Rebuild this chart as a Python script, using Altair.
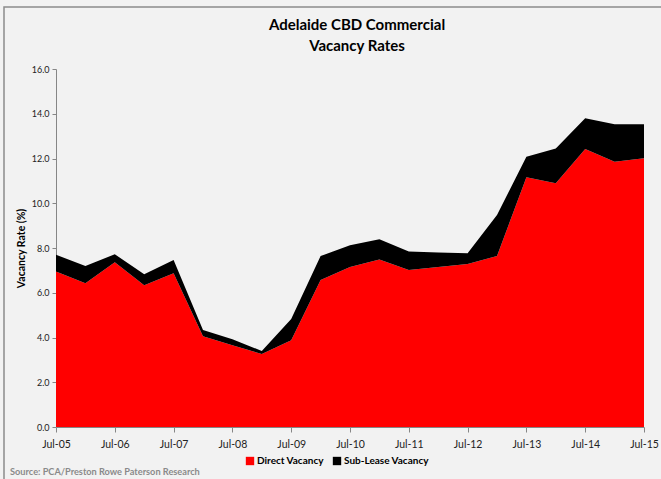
import altair as alt
import pandas as pd

periods = ["Jul-05", "Jan-06", "Jul-06", "Jan-07", "Jul-07", "Jan-08", "Jul-08",
           "Jan-09", "Jul-09", "Jan-10", "Jul-10", "Jan-11", "Jul-11", "Jan-12",
           "Jul-12", "Jan-13", "Jul-13", "Jan-14", "Jul-14", "Jan-15", "Jul-15"]
direct = [6.95, 6.42, 7.36, 6.33, 6.87, 4.06, 3.65, 3.26, 3.88, 6.57, 7.15,
          7.49, 7.02, 7.15, 7.28, 7.64, 11.16, 10.89, 12.42, 11.86, 12.01]
total = [7.70, 7.20, 7.72, 6.83, 7.46, 4.34, 3.92, 3.40, 4.83, 7.64, 8.12,
         8.39, 7.84, 7.80, 7.76, 9.47, 12.08, 12.45, 13.80, 13.53, 13.53]
series = ["Direct Vacancy", "Sub-Lease Vacancy"]
colors = ["#ff0000", "#000000"]
tick_labels = ["Jul-05", "Jul-06", "Jul-07", "Jul-08", "Jul-09", "Jul-10",
               "Jul-11", "Jul-12", "Jul-13", "Jul-14", "Jul-15"]
title_lines = ["Adelaide CBD Commercial", "Vacancy Rates"]
source_text = "Source: PCA/Preston Rowe Paterson Research"

rows = []
for i, p in enumerate(periods):
    rows.append({"t": i, "period": p, "series": series[0], "ord": 0, "value": direct[i]})
    rows.append({"t": i, "period": p, "series": series[1], "ord": 1,
                 "value": round(total[i] - direct[i], 2)})
df = pd.DataFrame(rows)

FONT = "Lato"
label_expr = "[" + ",".join("'%s'" % s for s in tick_labels) + "][datum.value/2]"

area = alt.Chart(df).mark_area(line=False, opacity=1).encode(
    x=alt.X("t:Q", scale=alt.Scale(domain=[0, 20], nice=False, zero=False),
            axis=alt.Axis(values=list(range(0, 21, 2)), labelExpr=label_expr,
                          title=None, grid=False, domainColor="#868686",
                          tickColor="#868686", tickSize=5, labelFontSize=10.5,
                          labelColor="#222", labelPadding=7, labelFont=FONT,
                          labelFlush=False, labelOverlap=False)),
    y=alt.Y("value:Q", stack="zero",
            scale=alt.Scale(domain=[0, 16], nice=False),
            axis=alt.Axis(values=list(range(0, 17, 2)), format=".1f",
                          title="Vacancy Rate (%)", titleFontSize=10.5,
                          titleFontWeight="bold", titleFont=FONT, titlePadding=5,
                          grid=False, domainColor="#868686", tickColor="#868686",
                          tickSize=4, labelFontSize=9, labelColor="#222",
                          labelFont=FONT, labelPadding=3, labelFlush=False)),
    color=alt.Color("series:N", scale=alt.Scale(domain=series, range=colors),
                    legend=alt.Legend(title=None, orient="none", direction="horizontal",
                                      legendX=189, legendY=387, symbolType="square",
                                      symbolSize=70, symbolStrokeWidth=0,
                                      labelFontSize=10, labelFontWeight="bold",
                                      labelFont=FONT, labelColor="#000",
                                      columnPadding=8, labelOffset=2)),
    order=alt.Order("ord:Q", sort="ascending"),
)

border = alt.Chart(alt.Data(values=[{"a": 1}])).mark_rect(
    fill=None, stroke="#8c8c8c", strokeWidth=1.5
).encode(x=alt.value(-52), x2=alt.value(640), y=alt.value(-62), y2=alt.value(440))

title_df = pd.DataFrame({"line": title_lines, "k": [0, 1]})
title = alt.Chart(title_df).mark_text(
    font=FONT, fontSize=15, fontWeight="bold", color="#000", align="center", baseline="middle"
).transform_calculate(py="datum.k * 21 - 44").encode(
    x=alt.value(301), y=alt.Y("py:Q", scale=None, axis=None), text="line:N"
)

source = alt.Chart(alt.Data(values=[{"s": source_text}])).mark_text(
    font=FONT, fontSize=9.2, fontWeight="bold", color="#8a8a8a", align="left", baseline="middle"
).encode(x=alt.value(-46), y=alt.value(403), text="s:N")

chart = alt.layer(border, area, title, source).properties(
    width=588, height=358,
    autosize=alt.AutoSizeParams(type="none"),
    padding={"left": 56, "top": 69, "right": 17, "bottom": 52},
    background="#f2f2f2",
).configure_view(stroke=None, clip=False)

chart.save("out.html", embed_options={"renderer": "svg", "actions": False})
